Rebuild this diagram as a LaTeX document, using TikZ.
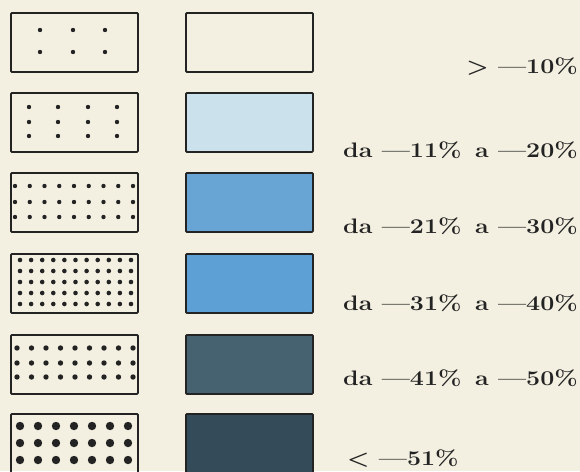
\documentclass[tikz,border=0pt]{standalone}
\usepackage{xcolor}
\definecolor{paper}{RGB}{243,240,225}
\definecolor{ink}{RGB}{35,35,35}
\definecolor{blueA}{RGB}{203,226,236}
\definecolor{blueB}{RGB}{104,164,212}
\definecolor{blueC}{RGB}{92,160,214}
\definecolor{slateA}{RGB}{70,98,112}
\definecolor{slateB}{RGB}{52,76,90}
\newcommand{\wide}[1]{\scalebox{1.19}[1]{#1}}
\begin{document}
\begin{tikzpicture}[x=1pt,y=-1pt,
  box/.style={draw=ink, line width=1.8pt, rounded corners=1pt, minimum width=127pt, minimum height=59pt, anchor=north west, inner sep=0},
  lbl/.style={anchor=base east, font=\fontsize{21}{25}\selectfont\bfseries, inner sep=0, text=ink}]
\useasboundingbox (0,0) rectangle (580,471);
\fill[paper] (0,0) rectangle (580,471);
\begin{scope}
\clip (0,0) rectangle (580,471);
% pattern boxes
\node[box] (p1) at (10,12) {};
\node[box] (p2) at (10,92) {};
\node[box] (p3) at (10,172) {};
\node[box] (p4) at (10,253) {};
\node[box] (p5) at (10,334) {};
\node[box, minimum height=80pt] (p6) at (10,413) {};
% colour boxes
\node[box] (c1) at (185,12) {};
\node[box, fill=blueA] (c2) at (185,92) {};
\node[box, fill=blueB] (c3) at (185,172) {};
\node[box, fill=blueC] (c4) at (185,253) {};
\node[box, fill=slateA] (c5) at (185,334) {};
\node[box, fill=slateB, minimum height=80pt] (c6) at (185,413) {};
% dots
\foreach \x in {40,73,105} \foreach \y in {30,52} \fill[ink] (\x,\y) circle (2.2);
\foreach \x in {29,58,88,117} \foreach \y in {107,122,136} \fill[ink] (\x,\y) circle (2.2);
\foreach \i in {0,...,8} \foreach \y in {186,202,217} \fill[ink] (15+14.75*\i,\y) circle (2.2);
\foreach \i in {0,...,10} \foreach \j in {0,...,4} \fill[ink] (20+11.1*\i,260+11*\j) circle (2.3);
\foreach \i in {0,...,8} \foreach \y in {348,363,377} \fill[ink] (17+14.5*\i,\y) circle (2.7);
\foreach \i in {0,...,6} \foreach \y in {426,443,460} \fill[ink] (20+18*\i,\y) circle (4.2);
% labels
\node[lbl] (t1) at (578,73) {\wide{> —10\%}};
\node[lbl] (t2) at (578,157) {\wide{da —11\% \,a —20\%}};
\node[lbl] (t3) at (578,233) {\wide{da —21\% \,a —30\%}};
\node[lbl] (t4) at (578,310) {\wide{da —31\% \,a —40\%}};
\node[lbl] (t5) at (578,385) {\wide{da —41\% \,a —50\%}};
\node[lbl, anchor=base west] (t6) at (347,465) {\wide{< —51\%}};
\end{scope}
\end{tikzpicture}
\end{document}
